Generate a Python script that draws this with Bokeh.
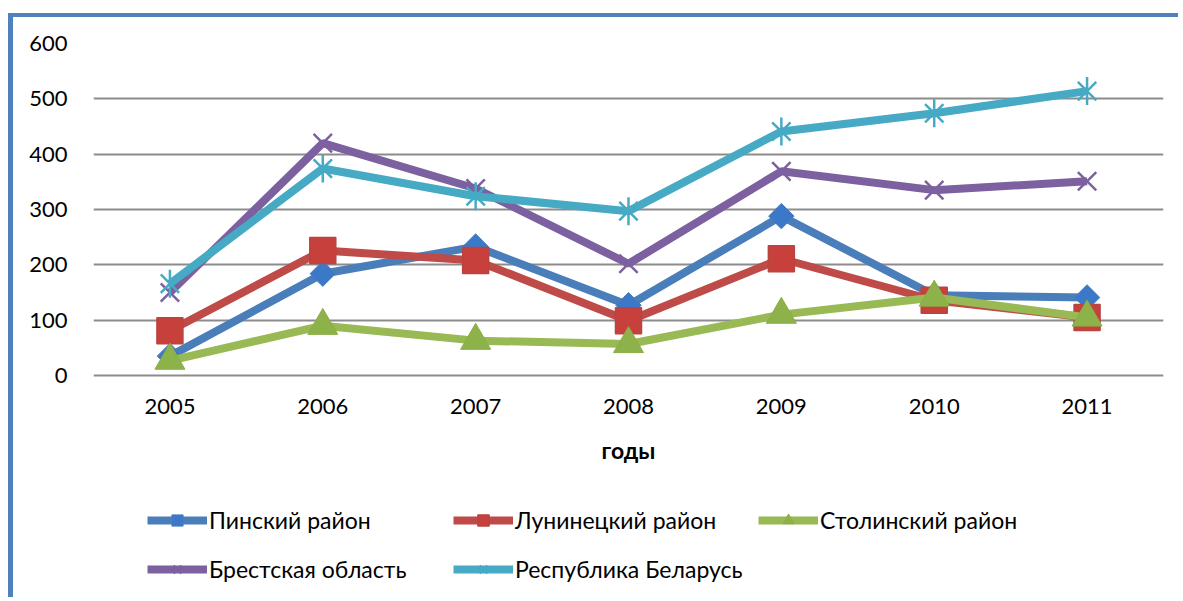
import math
from bokeh.plotting import figure
from bokeh.models import FactorRange, Range1d, FixedTicker, Legend, LegendItem, InlineStyleSheet
from bokeh.embed import file_html
from bokeh.resources import INLINE

years = ["2005", "2006", "2007", "2008", "2009", "2010", "2011"]
pinsk = [35, 184, 233, 127, 288, 145, 141]
luninets = [81, 226, 208, 99, 211, 136, 105]
stolin = [27, 90, 63, 57, 110, 141, 105]
brest = [150, 420, 338, 202, 369, 335, 351]
belarus = [166, 374, 324, 297, 441, 474, 514]
names = ["Пинский район", "Лунинецкий район", "Столинский район",
         "Брестская область", "Республика Беларусь"]
y_ticks = [0, 100, 200, 300, 400, 500, 600]
x_title = "годы"

FONT = "Lato"
colors = ["#4A7EBB", "#BE4B48", "#98B954", "#7D60A0", "#46AAC5"]

# frame: 0..600 occupies 332 px; the frame continues 226 px below 0 for axis + legend
FRAME_H = 558
Y_TOP = 600
Y_LOW = Y_TOP - FRAME_H * Y_TOP / 332.0

p = figure(width=1170, height=584, x_range=FactorRange(factors=years),
           y_range=Range1d(Y_LOW, Y_TOP), output_backend="svg", toolbar_location=None,
           min_border_left=80, min_border_top=26, min_border_right=20,
           min_border_bottom=0)
p.stylesheets.append(InlineStyleSheet(css=":host { border-left: 5px solid #4F81BD; border-top: 4px solid #4F81BD; margin-top: 13px; margin-left: 8px; }"))
p.outline_line_color = None

p.yaxis.ticker = FixedTicker(ticks=y_ticks)
p.yaxis.axis_line_color = None
p.yaxis.major_tick_line_color = None
p.yaxis.minor_tick_line_color = None
p.yaxis.major_tick_out = 0
p.yaxis.major_label_standoff = 26
p.yaxis.major_label_text_font = FONT
p.yaxis.major_label_text_font_size = "22px"
p.yaxis.major_label_text_color = "#000000"

p.xaxis.fixed_location = 0
p.xaxis.axis_line_color = None
p.xaxis.major_tick_line_color = None
p.xaxis.minor_tick_line_color = None
p.xaxis.major_tick_out = 0
p.xaxis.major_label_standoff = 23
p.xaxis.major_label_text_font = FONT
p.xaxis.major_label_text_font_size = "22px"
p.xaxis.major_label_text_color = "#000000"
p.xaxis.axis_label = x_title
p.xaxis.axis_label_text_font = FONT
p.xaxis.axis_label_text_font_size = "23px"
p.xaxis.axis_label_text_font_style = "bold"
p.xaxis.axis_label_text_color = "#000000"
p.xaxis.axis_label_standoff = 19

p.xgrid.grid_line_color = None
p.ygrid.grid_line_color = "#8C8C8C"
p.ygrid.grid_line_width = 2

series = [pinsk, luninets, stolin, brest, belarus]
items = []
for i, (vals, name, c) in enumerate(zip(series, names, colors)):
    rs = [p.line(years, vals, line_color=c, line_width=8)]
    if i == 0:
        rs.append(p.scatter(years, vals, marker="square", angle=math.pi / 4, size=18,
                            line_color=c, line_width=1, fill_color="#3C78C8"))
    elif i == 1:
        rs.append(p.scatter(years, vals, marker="square", size=26,
                            line_color="#B84440", line_width=1.5, fill_color="#C8403C"))
    elif i == 2:
        rs.append(p.scatter(years, vals, marker="triangle", size=30,
                            line_color="#8CAE48", line_width=1, fill_color="#8DB24A"))
    elif i == 3:
        rs.append(p.scatter(years, vals, marker="x", size=26, line_color=c, line_width=2.5))
    else:
        rs.append(p.scatter(years, vals, marker="x", size=26, line_color=c, line_width=2.5))
        rs.append(p.scatter(years, vals, marker="dash", angle=math.pi / 2, size=28,
                            line_color=c, line_width=2.5))
    items.append(LegendItem(label=name, renderers=rs))

# legend entry positions (offsets from the frame's bottom-left corner, in px)
leg_pos = [(54, 67), (360, 67), (665, 67), (54, 18), (360, 18)]
for item, loc in zip(items, leg_pos):
    lg = Legend(items=[item], location=loc, orientation="horizontal", margin=0, padding=0,
                glyph_width=60, glyph_height=28, label_standoff=2,
                label_text_font=FONT, label_text_font_size="23px",
                label_text_color="#000000", border_line_color=None,
                background_fill_alpha=0)
    p.add_layout(lg, "center")

open("out.html", "w").write(file_html(p, INLINE))
